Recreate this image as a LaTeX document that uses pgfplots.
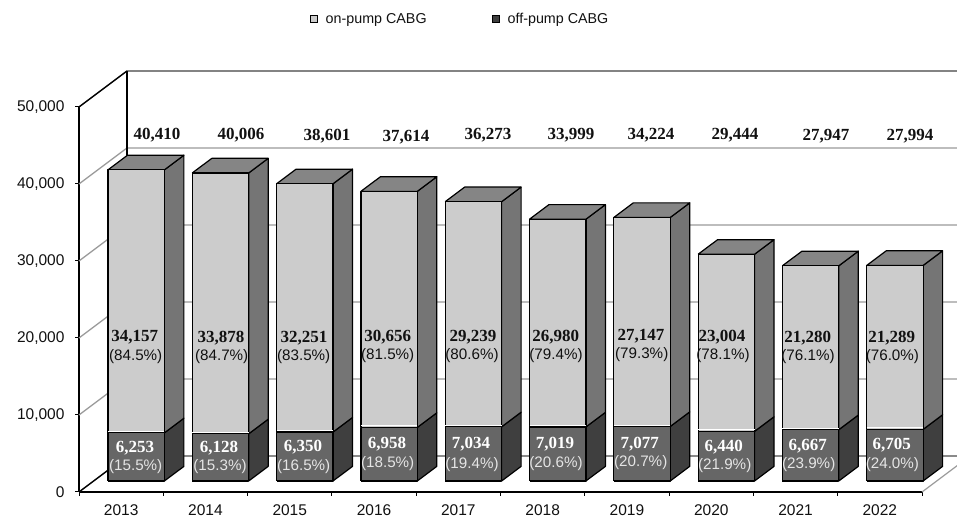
\documentclass[border=0pt]{standalone}
\usepackage{fontspec}
\setmainfont{Liberation Sans}
\newfontfamily\numfont{Liberation Serif}
\usepackage{pgfplots}
\usepackage{pgfplotstable}
\pgfplotsset{compat=1.18}
\definecolor{upFront}{HTML}{CCCCCC}
\definecolor{upSide}{HTML}{757575}
\definecolor{upTop}{HTML}{858585}
\definecolor{loFront}{HTML}{666666}
\definecolor{loSide}{HTML}{3F3F3F}
\definecolor{gridc}{HTML}{9A9A9A}
\definecolor{txt}{HTML}{111111}
% year index, off-pump, on-pump
\pgfplotstableread{
idx off on
0 6253 34157
1 6128 33878
2 6350 32251
3 6958 30656
4 7034 29239
5 7019 26980
6 7077 27147
7 6440 23004
8 6667 21280
9 6705 21289
}\cabg
% 1px = 1pt; geometry constants, in data units
\def\wx{0.5694}  % wall depth in x
\def\wy{4675}    % wall depth in y
\def\bl{0.344}   % bar left edge within slot
\def\br{1.013}   % bar right edge within slot
\def\bdx{0.2313} % bar depth in x
\def\bdy{1896}   % bar depth in y
\def\bbase{1429} % bar floor
\newcommand\poly[2]{\addplot[fill=#1,draw=black,line width=1.2pt,line join=round] coordinates {#2};}
\newcommand\onebar[1]{%
  \pgfplotstablegetelem{#1}{off}\of\cabg\edef\voff{\pgfplotsretval}%
  \pgfplotstablegetelem{#1}{on}\of\cabg\edef\von{\pgfplotsretval}%
  \edef\xl{\fpeval{#1+\bl}}\edef\xr{\fpeval{#1+\br}}%
  \edef\xb{\fpeval{#1+\br+\bdx}}\edef\xc{\fpeval{#1+\bl+\bdx}}%
  \edef\ya{\bbase}\edef\yab{\fpeval{\bbase+\bdy}}%
  \edef\ym{\fpeval{\bbase+\voff}}\edef\ymb{\fpeval{\bbase+\voff+\bdy}}%
  \edef\yt{\fpeval{\bbase+\voff+\von}}\edef\ytb{\fpeval{\bbase+\voff+\von+\bdy}}%
  \edef\yw{\fpeval{\bbase+\voff+200}}%
  \poly{loSide}{(\xr,\ya)(\xb,\yab)(\xb,\ymb)(\xr,\ym)(\xr,\ya)}%
  \poly{loFront}{(\xl,\ya)(\xr,\ya)(\xr,\ym)(\xl,\ym)(\xl,\ya)}%
  \poly{upSide}{(\xr,\ym)(\xb,\ymb)(\xb,\ytb)(\xr,\yt)(\xr,\ym)}%
  \poly{upTop}{(\xl,\yt)(\xr,\yt)(\xb,\ytb)(\xc,\ytb)(\xl,\yt)}%
  \poly{upFront}{(\xl,\ym)(\xr,\ym)(\xr,\yt)(\xl,\yt)(\xl,\ym)}%
  \addplot[white,line width=0.9pt] coordinates {(\xl,\yw)(\xr,\yw)};%
}
\newcommand\wall[2]{\edef\wtop{\fpeval{#2+\wy}}\addplot[#1,line width=1.3pt] coordinates {(0,#2)(\wx,\wtop)(10.7,\wtop)};}
\newcommand\lab[4][txt]{\node[text=#1,inner sep=0pt,anchor=center] at (#2pt,{(518-#3)*1pt}) {#4};}
\newcommand\tot[3]{\lab{#1}{#2}{\fontsize{17}{18}\selectfont\numfont\bfseries #3}}
\newcommand\pct[4][txt]{\lab[#1]{#2}{#3}{\fontsize{15.2}{17}\selectfont #4}}
\begin{document}
\begin{tikzpicture}
\useasboundingbox (0,0) rectangle (957pt,518pt);
\clip (0,0) rectangle (957pt,518pt);
\begin{axis}[
  at={(79pt,26pt)}, anchor=south west,
  scale only axis, width=843pt, height=385pt,
  xmin=0, xmax=10, ymin=0, ymax=50000,
  clip=false,
  axis lines*=left,
  axis line style={line width=1.2pt,black},
  xtick={0.5,1.5,2.5,3.5,4.5,5.5,6.5,7.5,8.5,9.5},
  xticklabels={2013,2014,2015,2016,2017,2018,2019,2020,2021,2022},
  minor xtick={0,1,2,3,4,5,6,7,8,9,10},
  major x tick style={draw=none},
  minor tick length=4pt,
  major tick length=4pt,
  tick align=outside,
  tick style={black,line width=1pt},
  ytick={0,10000,20000,30000,40000,50000},
  scaled y ticks=false,
  /pgf/number format/assume math mode=true,
  /pgf/number format/1000 sep={,},
  tick label style={font=\fontsize{15.5}{17}\selectfont,text=txt},
  yticklabel style={xshift=-7pt},
  xticklabel style={yshift=-5pt},
  legend style={at={(0.4526,1.2275)},anchor=center,legend columns=2,draw=none,fill=none,
    font=\fontsize{14.3}{16}\selectfont,
    /tikz/every odd column/.append style={column sep=6pt},
    /tikz/every even column/.append style={column sep=64pt},
    legend cell align=left,text=txt},
]
\addlegendimage{only marks,mark=square*,mark size=3.5pt,mark options={fill=upFront,draw=black,line width=1pt}}
\addlegendentry{on-pump CABG}
\addlegendimage{only marks,mark=square*,mark size=3.5pt,mark options={fill=loSide,draw=black,line width=1pt}}
\addlegendentry{off-pump CABG}
% walls
\wall{gridc}{10000}
\wall{gridc}{20000}
\wall{gridc}{30000}
\wall{gridc}{40000}
\wall{black!75}{50000}
\wall{black!70}{0}
\addplot[black,line width=1.2pt] coordinates {(0,0)(\wx,\wy)};
\addplot[black,line width=1.2pt] coordinates {(0,50000)(\wx,54675)};
\addplot[black,line width=1.2pt] coordinates {(\wx,4675)(\wx,54675)};
\addplot[gridc,line width=1.2pt] coordinates {(10,0)(10.5694,4675)};
\pgfplotsinvokeforeach{0,1,2,3,4,5,6,7,8,9}{\onebar{#1}}
\end{axis}
% totals
\tot{157}{135}{40,410}
\tot{241}{135}{40,006}
\tot{327}{136.5}{38,601}
\tot{406}{137}{37,614}
\tot{488}{135}{36,273}
\tot{571}{135}{33,999}
\tot{651}{135}{34,224}
\tot{735}{135}{29,444}
\tot{826}{136}{27,947}
\tot{910}{136}{27,994}
% on-pump
\tot{134.7}{337}{34,157}\pct{135.7}{356.7}{(84.5\%)}
\tot{221}{338}{33,878}\pct{221.7}{357}{(84.7\%)}
\tot{304}{338}{32,251}\pct{303.7}{357}{(83.5\%)}
\tot{387.7}{337.5}{30,656}\pct{387.7}{356}{(81.5\%)}
\tot{473}{337}{29,239}\pct{472}{356}{(80.6\%)}
\tot{555.7}{337}{26,980}\pct{556}{355.5}{(79.4\%)}
\tot{641}{336}{27,147}\pct{641.7}{354.5}{(79.3\%)}
\tot{722}{337.5}{23,004}\pct{723}{356}{(78.1\%)}
\tot{807.7}{338}{21,280}\pct{808}{357}{(76.1\%)}
\tot{891.7}{338}{21,289}\pct{892.4}{357}{(76.0\%)}
% off-pump
\newcommand\wt[3]{\lab[white]{#1}{#2}{\fontsize{17}{18}\selectfont\numfont\bfseries #3}}
\wt{135}{448}{6,253}\pct[white!90!black]{135.7}{466.7}{(15.5\%)}
\wt{219}{448}{6,128}\pct[white!90!black]{220}{467}{(15.3\%)}
\wt{303}{447}{6,350}\pct[white!90!black]{303.7}{467}{(16.5\%)}
\wt{387}{444.5}{6,958}\pct[white!90!black]{387.7}{464}{(18.5\%)}
\wt{471}{444.5}{7,034}\pct[white!90!black]{472}{464.5}{(19.4\%)}
\wt{555}{444.5}{7,019}\pct[white!90!black]{556}{463.5}{(20.6\%)}
\wt{639.7}{444}{7,077}\pct[white!90!black]{640.7}{463}{(20.7\%)}
\wt{723.7}{447}{6,440}\pct[white!90!black]{724.7}{466}{(21.9\%)}
\wt{807.7}{446}{6,667}\pct[white!90!black]{808.7}{465}{(23.9\%)}
\wt{891.7}{445.5}{6,705}\pct[white!90!black]{892.4}{465}{(24.0\%)}
\end{tikzpicture}
\end{document}
